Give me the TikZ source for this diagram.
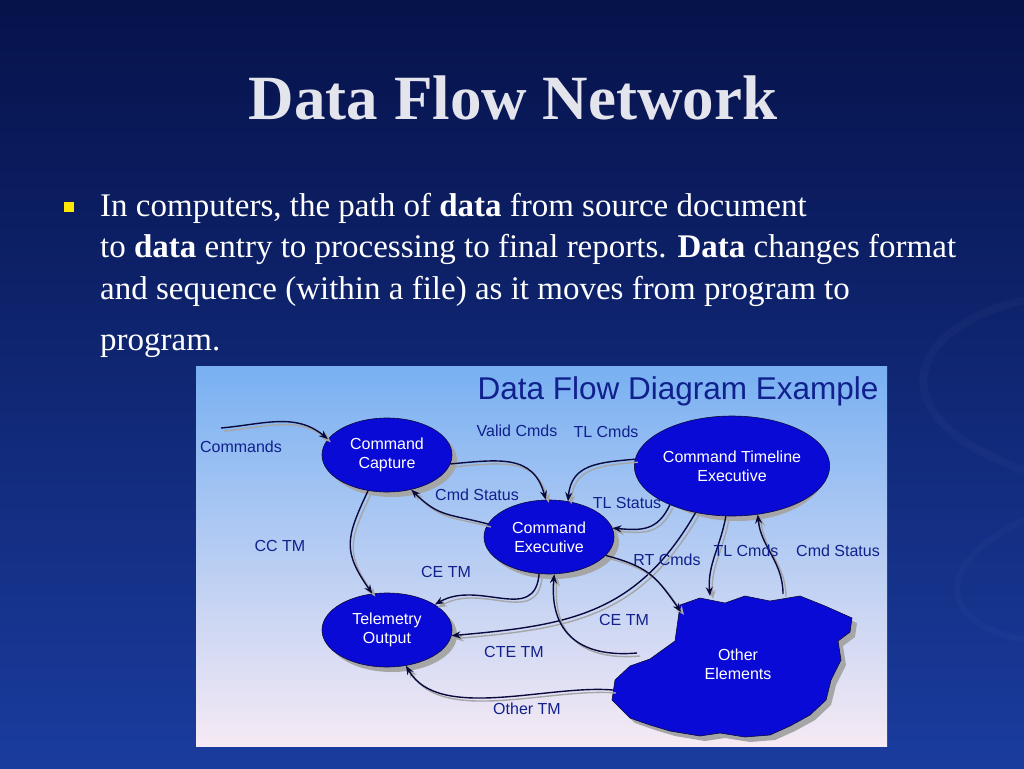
\documentclass[tikz,border=0pt]{standalone}
\usepackage{fontspec}
\setmainfont{Liberation Serif}
\setsansfont{Liberation Sans}
\usetikzlibrary{shapes.geometric,arrows.meta,shadows}
\definecolor{bgtop}{HTML}{06124A}
\definecolor{bgbot}{HTML}{1A3C9E}
\definecolor{ptop}{HTML}{78B0F2}
\definecolor{pbot}{HTML}{F6EAF4}
\definecolor{nodeblue}{HTML}{0A0AD6}
\definecolor{navy}{HTML}{0A0A3C}
\definecolor{lbl}{HTML}{10208C}
\definecolor{ttl}{HTML}{E4E4EC}
\tikzset{
  proc/.style={ellipse,fill=nodeblue,draw=navy,line width=0.6pt,text=white,font=\sffamily\fontsize{16}{19}\selectfont,align=center,inner sep=0pt},
  flow/.style={draw=navy,line width=1.4pt,-{Stealth[length=9pt,width=7pt]}},
  shadowline/.style={draw=gray!70,line width=1.4pt,-{Stealth[length=9pt,width=7pt]}},
  lab/.style={text=lbl,font=\sffamily\fontsize{16}{18}\selectfont},
  body/.style={text=white,font=\fontsize{33}{36}\selectfont,anchor=base west,inner sep=0pt}
}
\newcommand\dfedge[3]{%
  \draw[shadowline,transform canvas={shift={(3pt,-3pt)}}] (#1) to[#3] (#2);
  \draw[flow] (#1) to[#3] (#2);}
\begin{document}
\begin{tikzpicture}[x=1pt,y=-1pt]
\useasboundingbox (0,0) rectangle (1024,768);
\shade[top color=bgtop,bottom color=bgbot] (0,0) rectangle (1024,768);
\draw[white,opacity=0.025,line width=8pt] (1024,300) .. controls (900,330) and (880,420) .. (1024,470);
\draw[white,opacity=0.02,line width=6pt] (1024,520) .. controls (940,560) and (930,620) .. (1024,640);
% title
\node (title) [text=ttl,font=\bfseries\fontsize{63}{70}\selectfont] at (513,98) {Data Flow Network};
% bullet
\node (bul) [fill=yellow!90!orange,minimum size=10pt,inner sep=0pt] at (69,207) {};
\node (l1) [body] at (100,216) {In computers, the path of \textbf{data} from source document};
\node (l2) [body] at (100,257) {to \textbf{data} entry to processing to final reports. \textbf{Data} changes format};
\node (l3) [body] at (100,299) {and sequence (within a file) as it moves from program to};
\node (l4) [body] at (100,350) {program.};
% panel
\shade[top color=ptop,bottom color=pbot] (196,366) rectangle (887,746);
\node (dtitle) [text=lbl,font=\sffamily\fontsize{31.5}{34}\selectfont] at (678,391) {Data Flow Diagram Example};
% nodes with shadows
\fill[gray!70] (392,460) ellipse [x radius=65,y radius=37];
\fill[gray!70] (737,471) ellipse [x radius=88,y radius=50];
\fill[gray!70] (554,542) ellipse [x radius=65,y radius=37];
\fill[gray!70] (392,635) ellipse [x radius=65,y radius=37];
\node (cc) [proc,minimum width=130pt,minimum height=74pt] at (387,455) {Command\\Capture};
\node (cte) [proc,minimum width=176pt,minimum height=100pt] at (732,466) {Command Timeline\\Executive};
\node (ce) [proc,minimum width=130pt,minimum height=74pt] at (549,537) {Command\\Executive};
\node (to) [proc,minimum width=130pt,minimum height=74pt] at (387,630) {Telemetry\\Output};
% other elements blob
\def\blob{(680,605) -- (700,598) -- (725,603) -- (745,596) -- (770,601) -- (800,596) -- (825,606) -- (852,618) -- (850,632) -- (838,641) -- (841,660) -- (831,680) -- (826,700) -- (810,715) -- (790,726) -- (770,735) -- (745,737) -- (720,733) -- (700,736) -- (670,731) -- (650,725) -- (630,718) -- (612,700) -- (615,680) -- (630,666) -- (650,659) -- (675,641) -- (678,620) -- cycle}
\fill[gray!70,shift={(5,5)}] \blob;
\fill[nodeblue] \blob;
\draw[navy,line width=0.6pt] \blob;
\node (oe) [text=white,font=\sffamily\fontsize{16}{19}\selectfont,align=center] at (738,664) {Other\\Elements};
\coordinate (oeA) at (681,612);
\coordinate (oeB) at (637,653);
\coordinate (oeC) at (710,596);
\coordinate (oeD) at (783,594);
\coordinate (oeE) at (613,690);
\coordinate (cmdstart) at (221,428);
% edges
\dfedge{cmdstart}{cc.165}{out=5,in=140}
\dfedge{cc.-8}{ce.95}{out=5,in=105,looseness=1.2}
\dfedge{ce.168}{cc.-55}{out=165,in=-45,looseness=1.2}
\dfedge{cc.-118}{to.112}{out=245,in=125,looseness=1.3}
\dfedge{cte.176}{ce.62}{out=185,in=85,looseness=1.2}
\dfedge{cte.-148}{ce.8}{out=245,in=-5,looseness=1.2}
\dfedge{cte.-128}{to.-5}{out=240,in=5,looseness=1.1}
\dfedge{ce.-18}{oeA}{out=-15,in=125,looseness=1.2}
\dfedge{ce.-105}{to.28}{out=-95,in=30,looseness=1.2}
\dfedge{oeB}{ce.-82}{out=185,in=-95,looseness=1.3}
\dfedge{cte.-97}{oeC}{out=-100,in=95}
\dfedge{oeD}{cte.-62}{out=90,in=-85}
\dfedge{oeE}{to.-62}{out=175,in=-60,looseness=0.8}
% labels
\node (lCmd) [lab] at (241,447) {Commands};
\node (lVC) [lab] at (517,431) {Valid Cmds};
\node (lTL1) [lab] at (606,432) {TL Cmds};
\node (lCS1) [lab] at (477,495) {Cmd Status};
\node (lTLS) [lab] at (627,503) {TL Status};
\node (lCCTM) [lab] at (280,546) {CC TM};
\node (lCETM1) [lab] at (446,572) {CE TM};
\node (lRT) [lab] at (667,560) {RT Cmds};
\node (lTL2) [lab] at (746,551) {TL Cmds};
\node (lCS2) [lab] at (838,551) {Cmd Status};
\node (lCETM2) [lab] at (624,620) {CE TM};
\node (lCTE) [lab] at (514,652) {CTE TM};
\node (lOTM) [lab] at (527,709) {Other TM};
\end{tikzpicture}
\end{document}
